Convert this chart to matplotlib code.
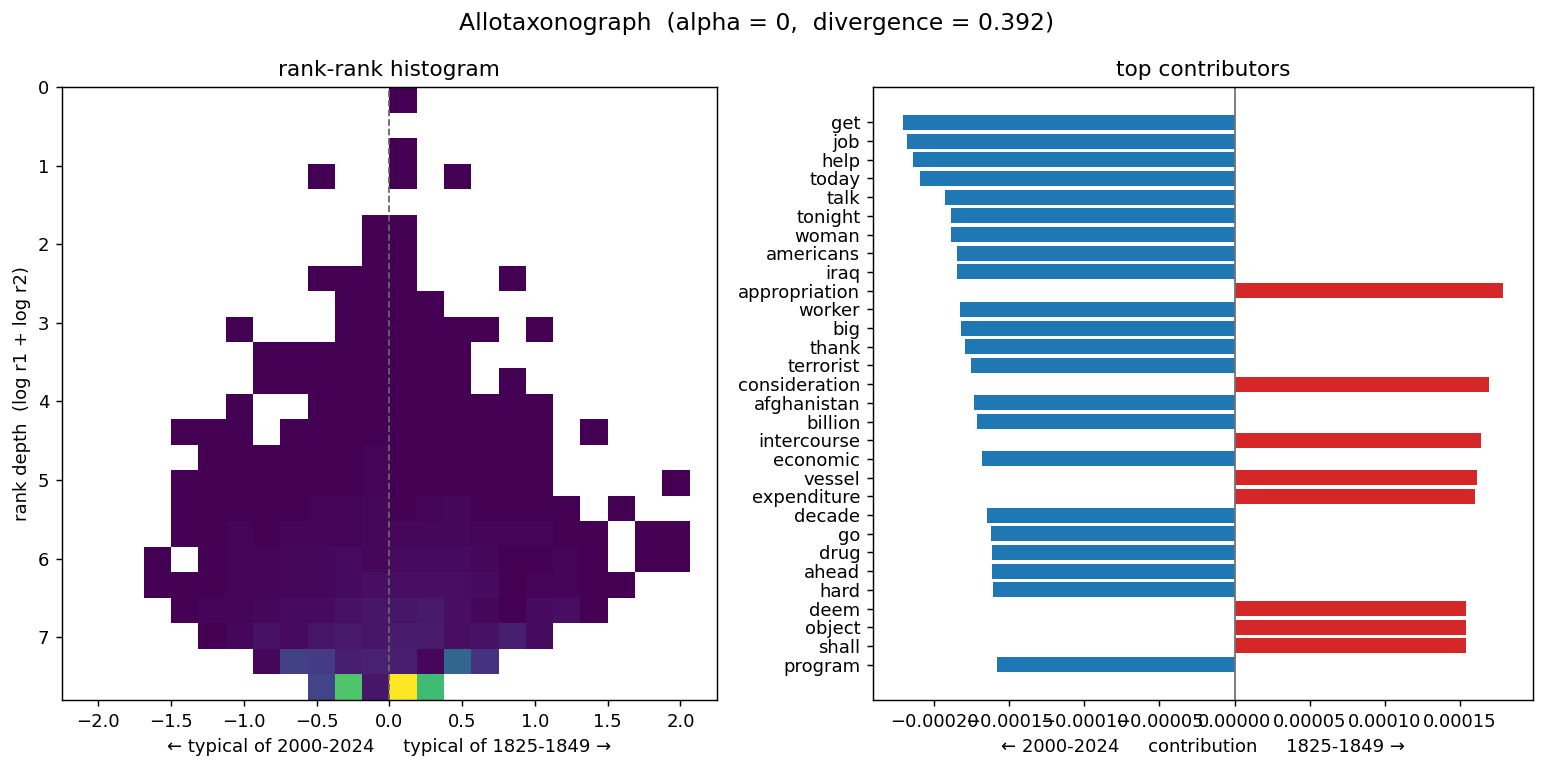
import numpy as np
import matplotlib
matplotlib.use("Agg")
import matplotlib.pyplot as plt

# histogram bins (24 x 24)
x_edges = np.linspace(-2.25, 2.25, 25)
y_edges = np.linspace(0, 7.8, 25)

# counts per cell, one list per rank-depth row (top to bottom)
counts = [
    [0,0,0,0,0,0,0,0,0,0,0,0,1,0,0,0,0,0,0,0,0,0,0,0],
    [0,0,0,0,0,0,0,0,0,0,0,0,0,0,0,0,0,0,0,0,0,0,0,0],
    [0,0,0,0,0,0,0,0,0,0,0,0,1,0,0,0,0,0,0,0,0,0,0,0],
    [0,0,0,0,0,0,0,0,0,1,0,0,1,0,1,0,0,0,0,0,0,0,0,0],
    [0,0,0,0,0,0,0,0,0,0,0,0,0,0,0,0,0,0,0,0,0,0,0,0],
    [0,0,0,0,0,0,0,0,0,0,0,1,1,0,0,0,0,0,0,0,0,0,0,0],
    [0,0,0,0,0,0,0,0,0,0,0,1,1,0,0,0,0,0,0,0,0,0,0,0],
    [0,0,0,0,0,0,0,0,0,1,1,1,1,0,0,0,1,0,0,0,0,0,0,0],
    [0,0,0,0,0,0,0,0,0,0,1,1,1,1,0,0,0,0,0,0,0,0,0,0],
    [0,0,0,0,0,0,1,0,0,0,1,1,1,1,1,1,0,1,0,0,0,0,0,0],
    [0,0,0,0,0,0,0,1,1,1,1,1,1,1,1,0,0,0,0,0,0,0,0,0],
    [0,0,0,0,0,0,0,1,1,1,1,1,1,1,1,0,1,0,0,0,0,0,0,0],
    [0,0,0,0,0,0,1,0,0,1,1,1,1,1,1,1,1,1,0,0,0,0,0,0],
    [0,0,0,0,1,1,1,0,1,1,1,1,1,1,1,1,1,1,0,1,0,0,0,0],
    [0,0,0,0,0,1,1,1,1,1,1,2,1,1,1,1,1,1,0,0,0,0,0,0],
    [0,0,0,0,1,1,1,1,1,1,1,2,1,1,1,1,1,1,0,0,0,0,1,0],
    [0,0,0,0,1,1,1,1,1,2,2,3,1,2,3,1,1,1,1,0,1,0,0,0],
    [0,0,0,0,1,1,2,1,2,2,2,3,3,3,3,2,2,2,1,1,0,1,1,0],
    [0,0,0,1,0,1,2,2,3,3,4,3,4,4,4,3,1,1,2,1,0,1,1,0],
    [0,0,0,1,1,1,2,2,3,3,4,5,5,5,5,4,1,2,2,1,1,0,0,0],
    [0,0,0,0,1,2,2,3,4,4,6,7,7,8,5,3,1,4,5,1,0,0,0,0],
    [0,0,0,0,0,1,3,6,4,7,8,7,9,9,5,6,10,4,0,0,0,0,0,0],
    [0,0,0,0,0,0,0,3,22,20,10,11,10,3,37,17,0,0,0,0,0,0,0,0],
    [0,0,0,0,0,0,0,0,0,23,80,7,110,76,0,0,0,0,0,0,0,0,0,0],
]

# top contributors
words = ["get", "job", "help", "today", "talk", "tonight", "woman", "americans",
         "iraq", "appropriation", "worker", "big", "thank", "terrorist",
         "consideration", "afghanistan", "billion", "intercourse", "economic",
         "vessel", "expenditure", "decade", "go", "drug", "ahead", "hard",
         "deem", "object", "shall", "program"]
contrib = [-0.0002207, -0.0002181, -0.0002143, -0.0002092, -0.0001924, -0.0001886,
           -0.0001886, -0.0001846, -0.0001846, 0.0001786, -0.0001829, -0.0001822,
           -0.0001795, -0.0001751, 0.0001695, -0.0001731, -0.0001711, 0.0001642,
           -0.0001680, 0.0001616, 0.0001602, -0.0001647, -0.0001623, -0.0001616,
           -0.0001616, -0.0001610, 0.0001542, 0.0001542, 0.0001542, -0.0001583]

fig = plt.figure(figsize=(1545 / 130, 770 / 130), dpi=130)
ax1 = fig.add_axes([0.0401, 0.0909, 0.4239, 0.7961])
ax2 = fig.add_axes([0.5650, 0.0909, 0.4272, 0.7961])

# rank-rank histogram
grid = np.ma.masked_equal(np.array(counts), 0)
ax1.pcolormesh(x_edges, y_edges, grid, cmap="viridis")
ax1.axvline(0, color="0.4", linestyle="--", linewidth=1)
ax1.set_xlim(x_edges[0], x_edges[-1])
ax1.set_ylim(y_edges[-1], y_edges[0])
ax1.set_title("rank-rank histogram")
ax1.set_xlabel("← typical of 2000-2024     typical of 1825-1849 →")
ax1.set_ylabel("rank depth  (log r1 + log r2)")

# top contributors
colors = ["tab:red" if v > 0 else "tab:blue" for v in contrib]
ypos = np.arange(len(words))
ax2.barh(ypos, contrib, color=colors, height=0.8)
ax2.axvline(0, color="0.45", linewidth=1)
ax2.set_yticks(ypos)
ax2.set_yticklabels(words)
ax2.invert_yaxis()
ax2.set_title("top contributors")
ax2.set_xlabel("← 2000-2024     contribution     1825-1849 →")

fig.suptitle("Allotaxonograph  (alpha = 0,  divergence = 0.392)", fontsize=13, x=0.49, y=0.985)

fig.savefig("out.png", dpi=130)
